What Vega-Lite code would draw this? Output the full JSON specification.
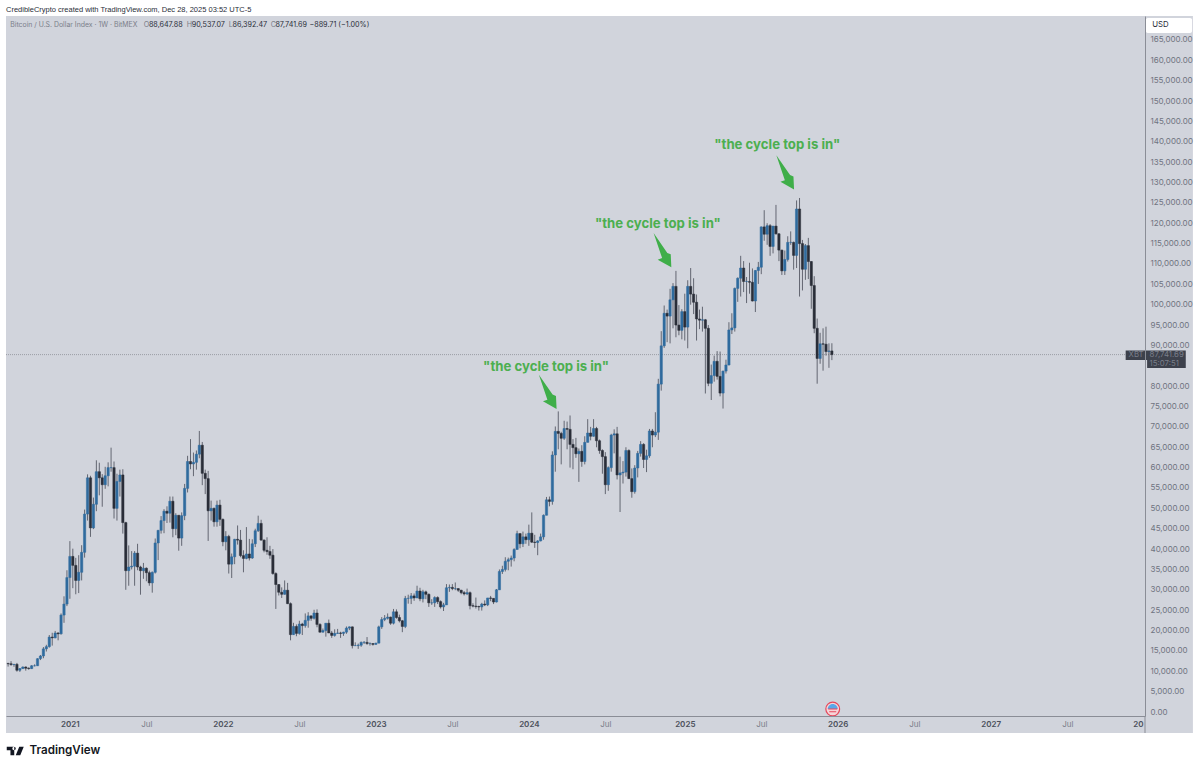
{
  "$schema": "https://vega.github.io/schema/vega-lite/v6.json",
  "autosize": {"type": "none"},
  "width": 1139,
  "height": 700,
  "padding": {"left": 6, "top": 16, "right": 55, "bottom": 52},
  "background": "#ffffff",
  "title": {
    "text": "CredibleCrypto created with TradingView.com, Dec 28, 2025 03:52 UTC-5",
    "anchor": "start",
    "frame": "group",
    "font": "Liberation Sans",
    "fontSize": 7.5,
    "fontWeight": 400,
    "color": "#2a2e39",
    "offset": 3
  },
  "config": {
    "font": "Inter",
    "view": {"fill": "#d1d4dc", "stroke": null}
  },
  "datasets": {
    "candles": [
      {"date":"2020-08-10","open":11900,"high":12100,"low":11150,"close":11850},
      {"date":"2020-08-17","open":11850,"high":12480,"low":11350,"close":11650},
      {"date":"2020-08-24","open":11650,"high":11800,"low":11100,"close":11700},
      {"date":"2020-08-31","open":11700,"high":12050,"low":9900,"close":10250},
      {"date":"2020-09-07","open":10250,"high":10800,"low":9850,"close":10650},
      {"date":"2020-09-14","open":10650,"high":11180,"low":10600,"close":11050},
      {"date":"2020-09-21","open":11050,"high":11200,"low":10150,"close":10750},
      {"date":"2020-09-28","open":10750,"high":10950,"low":10400,"close":10650},
      {"date":"2020-10-05","open":10650,"high":11500,"low":10550,"close":11350},
      {"date":"2020-10-12","open":11350,"high":11700,"low":11200,"close":11350},
      {"date":"2020-10-19","open":11350,"high":13200,"low":11300,"close":13100},
      {"date":"2020-10-26","open":13100,"high":14000,"low":12750,"close":13750},
      {"date":"2020-11-02","open":13750,"high":15950,"low":13200,"close":15500},
      {"date":"2020-11-09","open":15500,"high":16500,"low":14850,"close":16050},
      {"date":"2020-11-16","open":16050,"high":18900,"low":15800,"close":18400},
      {"date":"2020-11-23","open":18400,"high":19450,"low":16300,"close":18200},
      {"date":"2020-11-30","open":18200,"high":19900,"low":18100,"close":19400},
      {"date":"2020-12-07","open":19400,"high":19600,"low":17600,"close":19200},
      {"date":"2020-12-14","open":19200,"high":24200,"low":19000,"close":23800},
      {"date":"2020-12-21","open":23800,"high":28400,"low":21900,"close":26500},
      {"date":"2020-12-28","open":26500,"high":34800,"low":26000,"close":33000},
      {"date":"2021-01-04","open":33000,"high":41950,"low":27800,"close":38200},
      {"date":"2021-01-11","open":38200,"high":40100,"low":30400,"close":36000},
      {"date":"2021-01-18","open":36000,"high":37850,"low":28900,"close":32300},
      {"date":"2021-01-25","open":32300,"high":38500,"low":29200,"close":34300},
      {"date":"2021-02-01","open":34300,"high":40950,"low":32300,"close":39200},
      {"date":"2021-02-08","open":39200,"high":49700,"low":37900,"close":48600},
      {"date":"2021-02-15","open":48600,"high":58350,"low":47000,"close":57500},
      {"date":"2021-02-22","open":57500,"high":58000,"low":43000,"close":45200},
      {"date":"2021-03-01","open":45200,"high":52650,"low":44900,"close":51000},
      {"date":"2021-03-08","open":51000,"high":61800,"low":49300,"close":59000},
      {"date":"2021-03-15","open":59000,"high":61200,"low":53200,"close":57500},
      {"date":"2021-03-22","open":57500,"high":58400,"low":50400,"close":55800},
      {"date":"2021-03-29","open":55800,"high":60200,"low":54800,"close":58000},
      {"date":"2021-04-05","open":58000,"high":61300,"low":55400,"close":60000},
      {"date":"2021-04-12","open":60000,"high":64900,"low":59000,"close":60000},
      {"date":"2021-04-19","open":60000,"high":61500,"low":47500,"close":50000},
      {"date":"2021-04-26","open":50000,"high":58500,"low":47000,"close":56600},
      {"date":"2021-05-03","open":56600,"high":59500,"low":52900,"close":58200},
      {"date":"2021-05-10","open":58200,"high":59600,"low":43800,"close":46500},
      {"date":"2021-05-17","open":46500,"high":46700,"low":30000,"close":34700},
      {"date":"2021-05-24","open":34700,"high":40900,"low":31000,"close":35600},
      {"date":"2021-05-31","open":35600,"high":39500,"low":35000,"close":35800},
      {"date":"2021-06-07","open":35800,"high":39500,"low":31000,"close":39000},
      {"date":"2021-06-14","open":39000,"high":41300,"low":34800,"close":35600},
      {"date":"2021-06-21","open":35600,"high":35900,"low":28800,"close":34700},
      {"date":"2021-06-28","open":34700,"high":36600,"low":32700,"close":35300},
      {"date":"2021-07-05","open":35300,"high":35500,"low":32100,"close":34200},
      {"date":"2021-07-12","open":34200,"high":34700,"low":31000,"close":31700},
      {"date":"2021-07-19","open":31700,"high":34500,"low":29300,"close":34300},
      {"date":"2021-07-26","open":34300,"high":42600,"low":34000,"close":41500},
      {"date":"2021-08-02","open":41500,"high":44700,"low":37300,"close":44600},
      {"date":"2021-08-09","open":44600,"high":48100,"low":43800,"close":47000},
      {"date":"2021-08-16","open":47000,"high":49800,"low":43900,"close":49300},
      {"date":"2021-08-23","open":49300,"high":50500,"low":46400,"close":48800},
      {"date":"2021-08-30","open":48800,"high":52900,"low":46500,"close":51750},
      {"date":"2021-09-06","open":51750,"high":52900,"low":42900,"close":45000},
      {"date":"2021-09-13","open":45000,"high":48800,"low":43400,"close":48300},
      {"date":"2021-09-20","open":48300,"high":48300,"low":39600,"close":42700},
      {"date":"2021-09-27","open":42700,"high":49000,"low":40800,"close":48200},
      {"date":"2021-10-04","open":48200,"high":56000,"low":47100,"close":54900},
      {"date":"2021-10-11","open":54900,"high":62900,"low":53900,"close":61500},
      {"date":"2021-10-18","open":61500,"high":67000,"low":59600,"close":60900},
      {"date":"2021-10-25","open":60900,"high":63700,"low":57900,"close":61300},
      {"date":"2021-11-01","open":61300,"high":64200,"low":59500,"close":63300},
      {"date":"2021-11-08","open":63300,"high":69000,"low":62300,"close":65500},
      {"date":"2021-11-15","open":65500,"high":66300,"low":55700,"close":58600},
      {"date":"2021-11-22","open":58600,"high":59500,"low":53500,"close":57300},
      {"date":"2021-11-29","open":57300,"high":59200,"low":42000,"close":49400},
      {"date":"2021-12-06","open":49400,"high":51900,"low":47000,"close":50000},
      {"date":"2021-12-13","open":50000,"high":50200,"low":45500,"close":46700},
      {"date":"2021-12-20","open":46700,"high":51900,"low":45500,"close":50800},
      {"date":"2021-12-27","open":50800,"high":52100,"low":45700,"close":47300},
      {"date":"2022-01-03","open":47300,"high":47500,"low":40700,"close":41800},
      {"date":"2022-01-10","open":41800,"high":44400,"low":39700,"close":43100},
      {"date":"2022-01-17","open":43100,"high":43500,"low":34000,"close":36300},
      {"date":"2022-01-24","open":36300,"high":38900,"low":32900,"close":38100},
      {"date":"2022-01-31","open":38100,"high":42500,"low":36300,"close":42400},
      {"date":"2022-02-07","open":42400,"high":45800,"low":41100,"close":42200},
      {"date":"2022-02-14","open":42200,"high":44700,"low":38000,"close":38400},
      {"date":"2022-02-21","open":38400,"high":39700,"low":34300,"close":37700},
      {"date":"2022-02-28","open":37700,"high":45400,"low":37500,"close":38800},
      {"date":"2022-03-07","open":38800,"high":42500,"low":37200,"close":37800},
      {"date":"2022-03-14","open":37800,"high":42400,"low":37600,"close":41300},
      {"date":"2022-03-21","open":41300,"high":45000,"low":40500,"close":44500},
      {"date":"2022-03-28","open":44500,"high":48200,"low":44200,"close":46300},
      {"date":"2022-04-04","open":46300,"high":47200,"low":42100,"close":42200},
      {"date":"2022-04-11","open":42200,"high":42400,"low":39200,"close":39700},
      {"date":"2022-04-18","open":39700,"high":42900,"low":38600,"close":39400},
      {"date":"2022-04-25","open":39400,"high":40800,"low":37600,"close":38500},
      {"date":"2022-05-02","open":38500,"high":40000,"low":33700,"close":34000},
      {"date":"2022-05-09","open":34000,"high":34300,"low":25300,"close":31300},
      {"date":"2022-05-16","open":31300,"high":31400,"low":28600,"close":29400},
      {"date":"2022-05-23","open":29400,"high":30600,"low":28000,"close":28900},
      {"date":"2022-05-30","open":28900,"high":32300,"low":28800,"close":29900},
      {"date":"2022-06-06","open":29900,"high":31700,"low":26500,"close":26600},
      {"date":"2022-06-13","open":26600,"high":26900,"low":17600,"close":19000},
      {"date":"2022-06-20","open":19000,"high":21900,"low":18900,"close":21000},
      {"date":"2022-06-27","open":21000,"high":21500,"low":18600,"close":19300},
      {"date":"2022-07-04","open":19300,"high":22400,"low":19000,"close":21600},
      {"date":"2022-07-11","open":21600,"high":21900,"low":18900,"close":21200},
      {"date":"2022-07-18","open":21200,"high":24200,"low":20700,"close":22500},
      {"date":"2022-07-25","open":22500,"high":24500,"low":20700,"close":23600},
      {"date":"2022-08-01","open":23600,"high":23700,"low":22400,"close":23000},
      {"date":"2022-08-08","open":23000,"high":25100,"low":22700,"close":24300},
      {"date":"2022-08-15","open":24300,"high":25200,"low":20800,"close":21500},
      {"date":"2022-08-22","open":21500,"high":21800,"low":19500,"close":19600},
      {"date":"2022-08-29","open":19600,"high":20500,"low":19500,"close":20000},
      {"date":"2022-09-05","open":20000,"high":21800,"low":18500,"close":21800},
      {"date":"2022-09-12","open":21800,"high":22700,"low":19400,"close":19400},
      {"date":"2022-09-19","open":19400,"high":19900,"low":18200,"close":18800},
      {"date":"2022-09-26","open":18800,"high":20300,"low":18500,"close":19300},
      {"date":"2022-10-03","open":19300,"high":20400,"low":19200,"close":19400},
      {"date":"2022-10-10","open":19400,"high":19700,"low":18200,"close":19300},
      {"date":"2022-10-17","open":19300,"high":19700,"low":18700,"close":19600},
      {"date":"2022-10-24","open":19600,"high":21000,"low":19200,"close":20600},
      {"date":"2022-10-31","open":20600,"high":21000,"low":20100,"close":20900},
      {"date":"2022-11-07","open":20900,"high":21000,"low":15600,"close":16300},
      {"date":"2022-11-14","open":16300,"high":17100,"low":16200,"close":16300},
      {"date":"2022-11-21","open":16300,"high":16800,"low":15500,"close":16400},
      {"date":"2022-11-28","open":16400,"high":17300,"low":16000,"close":17100},
      {"date":"2022-12-05","open":17100,"high":17400,"low":16700,"close":17100},
      {"date":"2022-12-12","open":17100,"high":18400,"low":16500,"close":16800},
      {"date":"2022-12-19","open":16800,"high":17100,"low":16300,"close":16800},
      {"date":"2022-12-26","open":16800,"high":16900,"low":16300,"close":16600},
      {"date":"2023-01-02","open":16600,"high":17000,"low":16500,"close":16900},
      {"date":"2023-01-09","open":16900,"high":21200,"low":16900,"close":20900},
      {"date":"2023-01-16","open":20900,"high":23300,"low":20400,"close":22700},
      {"date":"2023-01-23","open":22700,"high":23800,"low":22300,"close":23000},
      {"date":"2023-01-30","open":23000,"high":24200,"low":22700,"close":23300},
      {"date":"2023-02-06","open":23300,"high":23400,"low":21400,"close":21800},
      {"date":"2023-02-13","open":21800,"high":25300,"low":21500,"close":24600},
      {"date":"2023-02-20","open":24600,"high":25200,"low":22900,"close":23200},
      {"date":"2023-02-27","open":23200,"high":23900,"low":22000,"close":22400},
      {"date":"2023-03-06","open":22400,"high":22600,"low":19600,"close":21000},
      {"date":"2023-03-13","open":21000,"high":28500,"low":20600,"close":27900},
      {"date":"2023-03-20","open":27900,"high":28800,"low":26600,"close":27900},
      {"date":"2023-03-27","open":27900,"high":29200,"low":26500,"close":28500},
      {"date":"2023-04-03","open":28500,"high":29100,"low":27300,"close":28000},
      {"date":"2023-04-10","open":28000,"high":31000,"low":28000,"close":29700},
      {"date":"2023-04-17","open":29700,"high":30500,"low":27200,"close":27800},
      {"date":"2023-04-24","open":27800,"high":30000,"low":26900,"close":29500},
      {"date":"2023-05-01","open":29500,"high":29800,"low":27700,"close":28900},
      {"date":"2023-05-08","open":28900,"high":29100,"low":25800,"close":26800},
      {"date":"2023-05-15","open":26800,"high":27700,"low":26300,"close":26800},
      {"date":"2023-05-22","open":26800,"high":28400,"low":25800,"close":28100},
      {"date":"2023-05-29","open":28100,"high":28400,"low":26500,"close":27100},
      {"date":"2023-06-05","open":27100,"high":27400,"low":25400,"close":25800},
      {"date":"2023-06-12","open":25800,"high":26800,"low":24800,"close":26300},
      {"date":"2023-06-19","open":26300,"high":31400,"low":26300,"close":30500},
      {"date":"2023-06-26","open":30500,"high":31300,"low":29500,"close":30600},
      {"date":"2023-07-03","open":30600,"high":31400,"low":29900,"close":30300},
      {"date":"2023-07-10","open":30300,"high":31800,"low":29900,"close":30300},
      {"date":"2023-07-17","open":30300,"high":30400,"low":29500,"close":29900},
      {"date":"2023-07-24","open":29900,"high":30000,"low":28900,"close":29300},
      {"date":"2023-07-31","open":29300,"high":29700,"low":28600,"close":29000},
      {"date":"2023-08-07","open":29000,"high":30300,"low":28700,"close":29300},
      {"date":"2023-08-14","open":29300,"high":29600,"low":25200,"close":26100},
      {"date":"2023-08-21","open":26100,"high":26700,"low":25700,"close":26000},
      {"date":"2023-08-28","open":26000,"high":28100,"low":25400,"close":25900},
      {"date":"2023-09-04","open":25900,"high":26100,"low":24900,"close":25800},
      {"date":"2023-09-11","open":25800,"high":26800,"low":24900,"close":26500},
      {"date":"2023-09-18","open":26500,"high":27400,"low":26000,"close":26300},
      {"date":"2023-09-25","open":26300,"high":28000,"low":26000,"close":28000},
      {"date":"2023-10-02","open":28000,"high":28500,"low":27200,"close":27900},
      {"date":"2023-10-09","open":27900,"high":27950,"low":26500,"close":27000},
      {"date":"2023-10-16","open":27000,"high":30200,"low":26900,"close":30000},
      {"date":"2023-10-23","open":30000,"high":35000,"low":30000,"close":34500},
      {"date":"2023-10-30","open":34500,"high":35900,"low":33900,"close":35000},
      {"date":"2023-11-06","open":35000,"high":38000,"low":34500,"close":37000},
      {"date":"2023-11-13","open":37000,"high":37900,"low":34800,"close":37400},
      {"date":"2023-11-20","open":37400,"high":38400,"low":35700,"close":37800},
      {"date":"2023-11-27","open":37800,"high":40200,"low":37000,"close":39900},
      {"date":"2023-12-04","open":39900,"high":44500,"low":39900,"close":43800},
      {"date":"2023-12-11","open":43800,"high":43900,"low":40200,"close":41300},
      {"date":"2023-12-18","open":41300,"high":44300,"low":40500,"close":43000},
      {"date":"2023-12-25","open":43000,"high":43800,"low":41300,"close":42300},
      {"date":"2024-01-01","open":42300,"high":46000,"low":40800,"close":43900},
      {"date":"2024-01-08","open":43900,"high":49000,"low":41500,"close":41700},
      {"date":"2024-01-15","open":41700,"high":43500,"low":40300,"close":41600},
      {"date":"2024-01-22","open":41600,"high":42200,"low":38500,"close":42000},
      {"date":"2024-01-29","open":42000,"high":43800,"low":41900,"close":43000},
      {"date":"2024-02-05","open":43000,"high":48500,"low":42300,"close":48300},
      {"date":"2024-02-12","open":48300,"high":52800,"low":48300,"close":52100},
      {"date":"2024-02-19","open":52100,"high":52900,"low":50500,"close":51700},
      {"date":"2024-02-26","open":51700,"high":64000,"low":50900,"close":63100},
      {"date":"2024-03-04","open":63100,"high":70100,"low":59000,"close":68900},
      {"date":"2024-03-11","open":68900,"high":73800,"low":64500,"close":68400},
      {"date":"2024-03-18","open":68400,"high":68800,"low":60800,"close":67200},
      {"date":"2024-03-25","open":67200,"high":71500,"low":66800,"close":69600},
      {"date":"2024-04-01","open":69600,"high":71300,"low":64500,"close":69400},
      {"date":"2024-04-08","open":69400,"high":72800,"low":60000,"close":65700},
      {"date":"2024-04-15","open":65700,"high":67000,"low":59600,"close":64900},
      {"date":"2024-04-22","open":64900,"high":67300,"low":62400,"close":63400},
      {"date":"2024-04-29","open":63400,"high":64700,"low":56500,"close":64000},
      {"date":"2024-05-06","open":64000,"high":65500,"low":60200,"close":61500},
      {"date":"2024-05-13","open":61500,"high":67700,"low":60800,"close":66200},
      {"date":"2024-05-20","open":66200,"high":71900,"low":66200,"close":68500},
      {"date":"2024-05-27","open":68500,"high":70000,"low":66700,"close":67700},
      {"date":"2024-06-03","open":67700,"high":71900,"low":67600,"close":69600},
      {"date":"2024-06-10","open":69600,"high":70000,"low":65000,"close":66600},
      {"date":"2024-06-17","open":66600,"high":66900,"low":63400,"close":64200},
      {"date":"2024-06-24","open":64200,"high":64500,"low":58500,"close":62700},
      {"date":"2024-07-01","open":62700,"high":63800,"low":53500,"close":55800},
      {"date":"2024-07-08","open":55800,"high":60300,"low":54300,"close":60000},
      {"date":"2024-07-15","open":60000,"high":68300,"low":59000,"close":68000},
      {"date":"2024-07-22","open":68000,"high":69400,"low":63500,"close":68300},
      {"date":"2024-07-29","open":68300,"high":70000,"low":57100,"close":58200},
      {"date":"2024-08-05","open":58200,"high":62700,"low":49100,"close":58700},
      {"date":"2024-08-12","open":58700,"high":61600,"low":56100,"close":58900},
      {"date":"2024-08-19","open":58900,"high":65000,"low":57800,"close":64200},
      {"date":"2024-08-26","open":64200,"high":64500,"low":57200,"close":57300},
      {"date":"2024-09-02","open":57300,"high":59800,"low":52600,"close":54100},
      {"date":"2024-09-09","open":54100,"high":60600,"low":53600,"close":59900},
      {"date":"2024-09-16","open":59900,"high":64100,"low":57600,"close":63500},
      {"date":"2024-09-23","open":63500,"high":66500,"low":62700,"close":65700},
      {"date":"2024-09-30","open":65700,"high":66000,"low":59900,"close":62000},
      {"date":"2024-10-07","open":62000,"high":64400,"low":58900,"close":62900},
      {"date":"2024-10-14","open":62900,"high":69500,"low":62400,"close":69000},
      {"date":"2024-10-21","open":69000,"high":69500,"low":65000,"close":68000},
      {"date":"2024-10-28","open":68000,"high":73600,"low":67500,"close":68700},
      {"date":"2024-11-04","open":68700,"high":81800,"low":66800,"close":80500},
      {"date":"2024-11-11","open":80500,"high":93500,"low":78900,"close":89900},
      {"date":"2024-11-18","open":89900,"high":99800,"low":89400,"close":97900},
      {"date":"2024-11-25","open":97900,"high":98800,"low":90800,"close":97200},
      {"date":"2024-12-02","open":97200,"high":103900,"low":90500,"close":101200},
      {"date":"2024-12-09","open":101200,"high":105300,"low":94200,"close":104500},
      {"date":"2024-12-16","open":104500,"high":108300,"low":92000,"close":95000},
      {"date":"2024-12-23","open":95000,"high":99900,"low":92500,"close":93700},
      {"date":"2024-12-30","open":93700,"high":98900,"low":91500,"close":98300},
      {"date":"2025-01-06","open":98300,"high":102700,"low":91200,"close":94500},
      {"date":"2025-01-13","open":94500,"high":106000,"low":89300,"close":104500},
      {"date":"2025-01-20","open":104500,"high":109000,"low":100000,"close":102600},
      {"date":"2025-01-27","open":102600,"high":106500,"low":97700,"close":100600},
      {"date":"2025-02-03","open":100600,"high":102500,"low":91200,"close":96500},
      {"date":"2025-02-10","open":96500,"high":98800,"low":94000,"close":96200},
      {"date":"2025-02-17","open":96200,"high":99500,"low":93400,"close":96300},
      {"date":"2025-02-24","open":96300,"high":96500,"low":78200,"close":94200},
      {"date":"2025-03-03","open":94200,"high":95000,"low":80000,"close":80700},
      {"date":"2025-03-10","open":80700,"high":85300,"low":76600,"close":82600},
      {"date":"2025-03-17","open":82600,"high":87500,"low":81100,"close":86100},
      {"date":"2025-03-24","open":86100,"high":88600,"low":81600,"close":82400},
      {"date":"2025-03-31","open":82400,"high":88500,"low":77500,"close":78300},
      {"date":"2025-04-07","open":78300,"high":83800,"low":74500,"close":83700},
      {"date":"2025-04-14","open":83700,"high":86500,"low":83100,"close":85200},
      {"date":"2025-04-21","open":85200,"high":95700,"low":85100,"close":93800},
      {"date":"2025-04-28","open":93800,"high":97900,"low":92800,"close":94300},
      {"date":"2025-05-05","open":94300,"high":104200,"low":93400,"close":104000},
      {"date":"2025-05-12","open":104000,"high":106700,"low":100700,"close":106500},
      {"date":"2025-05-19","open":106500,"high":112000,"low":102000,"close":109000},
      {"date":"2025-05-26","open":109000,"high":110700,"low":103100,"close":105700},
      {"date":"2025-06-02","open":105700,"high":106800,"low":100400,"close":105700},
      {"date":"2025-06-09","open":105700,"high":110300,"low":102700,"close":105500},
      {"date":"2025-06-16","open":105500,"high":108900,"low":100800,"close":100900},
      {"date":"2025-06-23","open":100900,"high":108500,"low":98200,"close":108400},
      {"date":"2025-06-30","open":108400,"high":110500,"low":105100,"close":109200},
      {"date":"2025-07-07","open":109200,"high":119200,"low":107500,"close":119100},
      {"date":"2025-07-14","open":119100,"high":123200,"low":115700,"close":117300},
      {"date":"2025-07-21","open":117300,"high":120000,"low":114700,"close":119400},
      {"date":"2025-07-28","open":119400,"high":119800,"low":112000,"close":114300},
      {"date":"2025-08-04","open":114300,"high":119300,"low":112600,"close":119300},
      {"date":"2025-08-11","open":119300,"high":124500,"low":117200,"close":117400},
      {"date":"2025-08-18","open":117400,"high":117600,"low":110700,"close":113400},
      {"date":"2025-08-25","open":113400,"high":113500,"low":107300,"close":108300},
      {"date":"2025-09-01","open":108300,"high":113300,"low":107300,"close":111100},
      {"date":"2025-09-08","open":111100,"high":116800,"low":110600,"close":115300},
      {"date":"2025-09-15","open":115300,"high":118000,"low":114700,"close":115300},
      {"date":"2025-09-22","open":115300,"high":115500,"low":108600,"close":112100},
      {"date":"2025-09-29","open":112100,"high":125600,"low":109000,"close":123500},
      {"date":"2025-10-06","open":123500,"high":126200,"low":102000,"close":115000},
      {"date":"2025-10-13","open":115000,"high":115900,"low":103500,"close":108700},
      {"date":"2025-10-20","open":108700,"high":114900,"low":106100,"close":114500},
      {"date":"2025-10-27","open":114500,"high":116400,"low":106300,"close":110600},
      {"date":"2025-11-03","open":110600,"high":110700,"low":99000,"close":104700},
      {"date":"2025-11-10","open":104700,"high":107000,"low":93000,"close":94200},
      {"date":"2025-11-17","open":94200,"high":96600,"low":80600,"close":86800},
      {"date":"2025-11-24","open":86800,"high":93100,"low":85500,"close":90400},
      {"date":"2025-12-01","open":90400,"high":94200,"low":83800,"close":90300},
      {"date":"2025-12-08","open":90300,"high":94600,"low":87500,"close":88500},
      {"date":"2025-12-15","open":88500,"high":90500,"low":84500,"close":88650},
      {"date":"2025-12-22","open":88648,"high":90537,"low":86392,"close":87742}
    ]
  },
  "encoding": {
    "x": {
      "field": "date",
      "type": "temporal",
      "title": null,
      "scale": {"domain": ["2020-08-05", "2028-01-06"], "nice": false, "padding": 0},
      "axis": {
        "zindex": 1,
        "grid": false,
        "ticks": false,
        "domainColor": "#8a8d96",
        "domainWidth": 1,
        "labelPadding": 4,
        "labelFontSize": 8,
        "labelFlush": false,
        "labelOverlap": false,
        "labelColor": {"expr": "month(datum.value) == 0 ? '#4c505b' : '#7b7f8a'"},
        "labelFontWeight": {"expr": "month(datum.value) == 0 ? 600 : 400"},
        "labelExpr": "month(datum.value) == 0 ? timeFormat(datum.value, '%Y') : 'Jul'",
        "values": [
          {"year": 2021, "month": 1, "date": 4}, {"year": 2021, "month": 7, "date": 5},
          {"year": 2022, "month": 1, "date": 3}, {"year": 2022, "month": 7, "date": 4},
          {"year": 2023, "month": 1, "date": 2}, {"year": 2023, "month": 7, "date": 3},
          {"year": 2024, "month": 1, "date": 1}, {"year": 2024, "month": 7, "date": 1},
          {"year": 2025, "month": 1, "date": 6}, {"year": 2025, "month": 7, "date": 7},
          {"year": 2026, "month": 1, "date": 5}, {"year": 2026, "month": 7, "date": 6},
          {"year": 2027, "month": 1, "date": 4}, {"year": 2027, "month": 7, "date": 5}
        ]
      }
    },
    "y": {
      "type": "quantitative",
      "title": null,
      "scale": {"domain": [-982, 170880], "nice": false, "zero": false},
      "axis": {
        "orient": "right",
        "zindex": 1,
        "grid": false,
        "ticks": false,
        "domainColor": "#8a8d96",
        "domainWidth": 1,
        "labelAlign": "left",
        "labelPadding": 5,
        "labelFontSize": 8,
        "labelColor": "#6f7380",
        "format": ",.2f",
        "values": [0,5000,10000,15000,20000,25000,30000,35000,40000,45000,50000,55000,60000,65000,70000,75000,80000,90000,95000,100000,105000,110000,115000,120000,125000,130000,135000,140000,145000,150000,155000,160000,165000]
      }
    }
  },
  "layer": [
    {
      "data": {"values": [
        {"date": "2028-01-06", "end": "2028-04-29", "top": 170880, "bottom": -5156},
        {"date": "2020-08-05", "end": "2028-01-06", "top": -982, "bottom": -5156}
      ]},
      "mark": {"type": "rect", "color": "#d1d4dc"},
      "encoding": {
        "x2": {"field": "end"},
        "y": {"field": "top", "type": "quantitative"},
        "y2": {"field": "bottom"}
      }
    },
    {
      "data": {"values": [{"date": "2028-01-06", "top": -982, "bottom": -5156}]},
      "mark": {"type": "rule", "color": "#8a8d96", "strokeWidth": 1},
      "encoding": {
        "y": {"field": "top", "type": "quantitative"},
        "y2": {"field": "bottom"}
      }
    },
    {
      "data": {"values": [{"last": 87742}]},
      "mark": {"type": "rule", "color": "#9a9da6", "strokeWidth": 1, "strokeDash": [1, 1]},
      "encoding": {
        "x": null,
        "y": {"field": "last", "type": "quantitative"}
      }
    },
    {
      "data": {"name": "candles"},
      "mark": {"type": "rule", "color": "#50545f", "strokeWidth": 1, "opacity": 0.85},
      "encoding": {
        "y": {"field": "low", "type": "quantitative"},
        "y2": {"field": "high"}
      }
    },
    {
      "data": {"name": "candles"},
      "mark": {"type": "bar", "size": 2.3, "strokeWidth": 0.5},
      "encoding": {
        "y": {"field": "open", "type": "quantitative"},
        "y2": {"field": "close"},
        "color": {"condition": {"test": "datum.close >= datum.open", "value": "#2f6b9e"}, "value": "#2a2e39"},
        "stroke": {"condition": {"test": "datum.close >= datum.open", "value": "#2f6b9e"}, "value": "#2a2e39"}
      }
    },
    {
      "data": {"values": [
        {"date": "2024-03-07", "price": 74400},
        {"date": "2024-12-05", "price": 109180},
        {"date": "2025-09-23", "price": 128300}
      ]},
      "mark": {
        "type": "point",
        "filled": true,
        "size": 1600,
        "opacity": 1,
        "color": "#3fae49",
        "shape": "M-0.885 -1.715 L-0.2 -0.72 L-0.03 -0.65 L0 0 L-0.68 -0.38 L-0.46 -0.46 Z"
      },
      "encoding": {
        "y": {"field": "price", "type": "quantitative"}
      }
    },
    {
      "data": {"values": [
        {"date": "2024-02-11", "price": 84700, "label": "\"the cycle top is in\""},
        {"date": "2024-11-03", "price": 119900, "label": "\"the cycle top is in\""},
        {"date": "2025-08-14", "price": 139200, "label": "\"the cycle top is in\""}
      ]},
      "mark": {"type": "text", "font": "Inter", "fontSize": 13.2, "fontWeight": 700, "color": "#4caf50"},
      "encoding": {
        "y": {"field": "price", "type": "quantitative"},
        "text": {"field": "label"}
      }
    },
    {
      "data": {"values": [{"date": "2020-08-15", "price": 168670, "label": "Bitcoin / U.S. Dollar Index · 1W · BitMEX"}]},
      "mark": {"type": "text", "align": "left", "fontSize": 6.9, "color": "#7b7f8a"},
      "encoding": {
        "y": {"field": "price", "type": "quantitative"},
        "text": {"field": "label"}
      }
    },
    {
      "data": {"values": [
        {"date": "2021-06-29", "price": 168670, "label": "O", "kind": "muted"},
        {"date": "2021-07-11", "price": 168670, "label": "88,647.88", "kind": "value"},
        {"date": "2021-10-09", "price": 168670, "label": "H", "kind": "muted"},
        {"date": "2021-10-21", "price": 168670, "label": "90,537.07", "kind": "value"},
        {"date": "2022-01-17", "price": 168670, "label": "L", "kind": "muted"},
        {"date": "2022-01-26", "price": 168670, "label": "86,392.47", "kind": "value"},
        {"date": "2022-04-27", "price": 168670, "label": "C", "kind": "muted"},
        {"date": "2022-05-08", "price": 168670, "label": "87,741.69", "kind": "value"},
        {"date": "2022-07-28", "price": 168670, "label": "−889.71 (−1.00%)", "kind": "value"}
      ]},
      "mark": {"type": "text", "align": "left", "fontSize": 7.2},
      "encoding": {
        "y": {"field": "price", "type": "quantitative"},
        "text": {"field": "label"},
        "color": {"field": "kind", "type": "nominal", "legend": null, "scale": {"domain": ["muted", "value"], "range": ["#7b7f8a", "#2a2e39"]}}
      }
    },
    {
      "data": {"values": [{"date": "2028-01-08", "end": "2028-04-27", "top": 170390, "bottom": 166700}]},
      "mark": {"type": "rect", "color": "#ffffff", "cornerRadius": 2},
      "encoding": {
        "x2": {"field": "end"},
        "y": {"field": "top", "type": "quantitative"},
        "y2": {"field": "bottom"}
      }
    },
    {
      "data": {"values": [
        {"date": "2027-11-21", "end": "2028-04-12", "top": 88760, "bottom": 86420},
        {"date": "2028-01-11", "end": "2028-04-12", "top": 86420, "bottom": 84460}
      ]},
      "mark": {"type": "rect", "color": "#3d414c"},
      "encoding": {
        "x2": {"field": "end"},
        "y": {"field": "top", "type": "quantitative"},
        "y2": {"field": "bottom"}
      }
    },
    {
      "data": {"values": [
        {"date": "2027-11-28", "price": 87540, "label": "XBT", "tone": "light"},
        {"date": "2028-01-17", "price": 87540, "label": "87,741.69", "tone": "light"},
        {"date": "2028-01-17", "price": 85440, "label": "15:07:51", "tone": "light"},
        {"date": "2028-01-23", "price": 168550, "label": "USD", "tone": "dark"}
      ]},
      "mark": {"type": "text", "align": "left", "fontSize": 7.8},
      "encoding": {
        "y": {"field": "price", "type": "quantitative"},
        "text": {"field": "label"},
        "color": {"field": "tone", "type": "nominal", "legend": null, "scale": {"domain": ["light", "dark"], "range": ["#e6e8ee", "#2a2e39"]}}
      }
    },
    {
      "data": {"values": [{"date": "2027-12-09", "price": -3192, "label": "20"}]},
      "mark": {"type": "text", "align": "left", "fontSize": 8, "fontWeight": 600, "color": "#4c505b"},
      "encoding": {
        "y": {"field": "price", "type": "quantitative"},
        "text": {"field": "label"}
      }
    },
    {
      "data": {"values": [{"date": "2025-12-24", "price": 737}]},
      "layer": [
        {"mark": {"type": "point", "filled": true, "size": 190, "opacity": 1, "color": "#f6d5d8", "stroke": "#e5475c", "strokeWidth": 1.2}},
        {"mark": {"type": "point", "filled": true, "size": 100, "opacity": 1, "color": "#5aa7e8", "shape": "M-1 0 A1 1 0 0 1 1 0 Z"}},
        {"mark": {"type": "point", "filled": true, "size": 100, "opacity": 1, "color": "#e5475c", "shape": "M-0.9 -0.1 H0.9 V0.1 H-0.9 Z M-0.7 0.45 H0.7 V0.65 H-0.7 Z"}}
      ],
      "encoding": {"y": {"field": "price", "type": "quantitative"}}
    },
    {
      "data": {"values": [{"date": "2020-08-27", "price": -9575}]},
      "mark": {
        "type": "point",
        "filled": true,
        "size": 400,
        "opacity": 1,
        "color": "#131722",
        "shape": "M-0.85 -0.42 H-0.1 V0.42 H-0.48 V-0.08 H-0.85 Z M0.05 -0.25 A0.17 0.17 0 1 0 0.05 -0.24 Z M0.05 0.42 L0.4 -0.42 H0.85 L0.5 0.42 Z"
      },
      "encoding": {"y": {"field": "price", "type": "quantitative"}}
    },
    {
      "data": {"values": [{"date": "2020-09-30", "price": -9500, "label": "TradingView"}]},
      "mark": {"type": "text", "align": "left", "font": "Inter", "fontSize": 11.6, "fontWeight": 600, "color": "#131722"},
      "encoding": {
        "y": {"field": "price", "type": "quantitative"},
        "text": {"field": "label"}
      }
    }
  ]
}
